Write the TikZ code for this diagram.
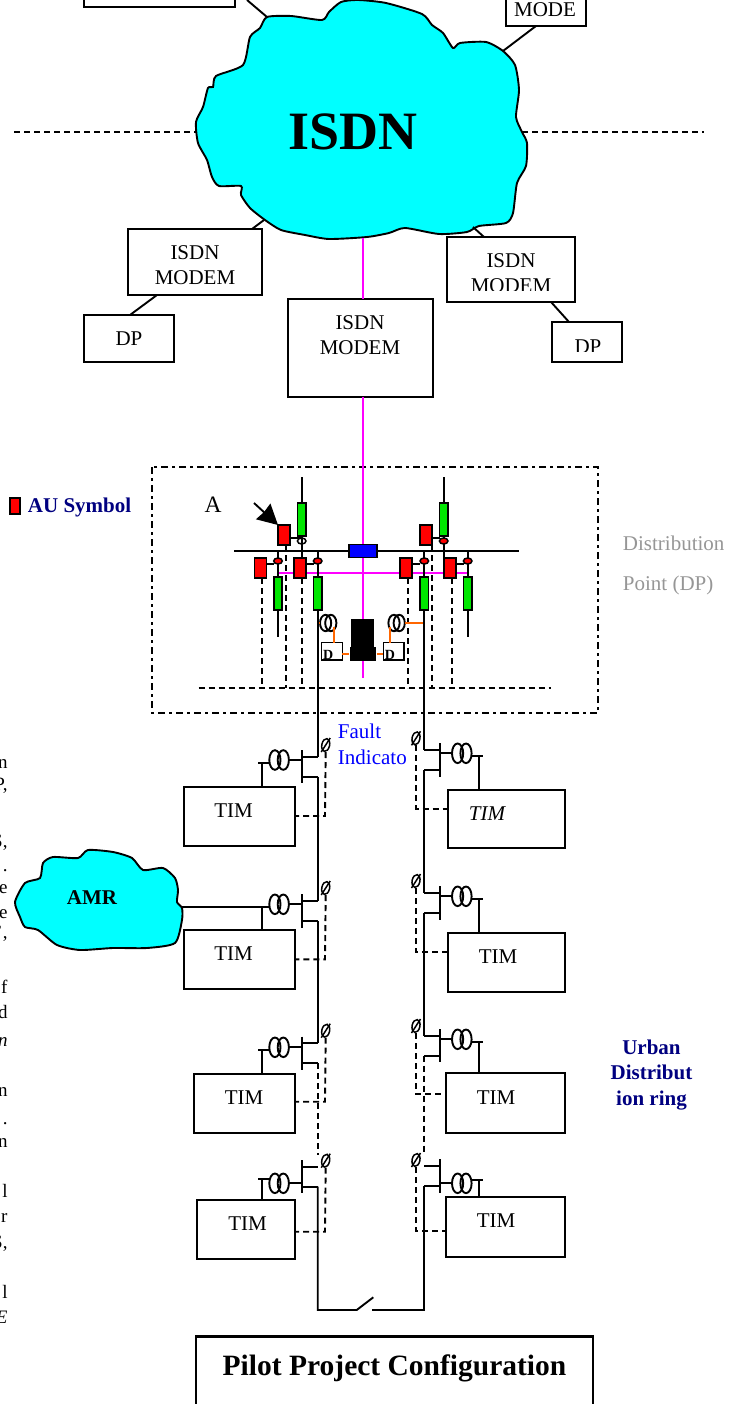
\documentclass[tikz,border=0pt]{standalone}
\usepackage{fontspec}
\setmainfont{Liberation Serif}
\usepackage{xcolor}
\usetikzlibrary{arrows.meta,shapes.geometric}
\definecolor{unitgreen}{RGB}{0,230,0}
\definecolor{navytext}{RGB}{0,0,128}
\definecolor{graytext}{RGB}{150,150,150}
\definecolor{wireorange}{RGB}{255,102,0}
\definecolor{cloudcyan}{RGB}{0,255,255}
\definecolor{wirepink}{RGB}{255,0,255}
\tikzset{
	labeltext/.style={font=\fontsize{21}{25}\selectfont,inner sep=0pt,align=center},
	edgetext/.style={font=\fontsize{19}{20}\selectfont,inner sep=0pt,anchor=base east},
	framebox/.style={draw,line width=2pt,inner sep=0pt,outer sep=0pt},
	redunit/.style={draw,fill=red,inner sep=0pt,outer sep=0pt,minimum width=12pt,minimum height=20pt},
	greenunit/.style={draw,fill=unitgreen,inner sep=0pt,outer sep=0pt,minimum width=8.4pt,minimum height=33pt},
	breaker/.style={draw,ellipse,fill=red,inner sep=0pt,outer sep=0pt,minimum width=8.6pt,minimum height=6pt},
	cloudshape/.style={draw,fill=cloudcyan,line width=1.9pt},
	mainline/.style={line width=2.3pt},
	dashline/.style={dashed,dash pattern=on 6pt off 4pt},
	orangeline/.style={wireorange,line width=1.9pt},
	pinkline/.style={wirepink,line width=1.8pt},
	pics/coil/.style 2 args={code={
		\draw (-#1,0) ellipse (5.6pt and #2pt);
		\draw (#1,0) ellipse (5.6pt and #2pt);
		\coordinate (-w) at (-#1-5.6,0);
		\coordinate (-e) at (#1+5.6,0);
	}},
	pics/indicator/.style={code={
		\draw[rotate=-12,line width=1.5pt] (0,0) ellipse (3.9pt and 6.5pt);
		\draw[line width=1.5pt] (-4.5,7) -- (4.5,-7);
		\coordinate (-foot) at (0,7);
	}},
	pics/feeder/.style n args={3}{code={
		\coordinate (-up) at (0,0);
		\coordinate (-low) at (0,20);
		\coordinate (-tap) at (-#3-17,#2);
		\draw[mainline] (-up) -- (-16,0) (-16,20) -- (-low);
		\draw[mainline] (-16,-6.7) -- (-16,26.7);
		\draw (-16,#1) -- (-#3+10,#1);
		\draw (-#3-10,#2) -- (-#3-21,#2);
		\pic at (-#3,#1) {coil={4.2}{9.8}};
	}}
}
\begin{document}
\begin{tikzpicture}[x=1pt,y=-1pt,line width=1.9pt]
    \useasboundingbox (0,0) rectangle (738,1404);
    % ISDN cloud and the dashed boundary
    \coordinate (dashla) at (14,132);
    \coordinate (dashlb) at (196,132);
    \coordinate (dashra) at (522,132);
    \coordinate (dashrb) at (704,132);
    \draw[dashline,line width=2pt] (dashla) -- (dashlb);
    \draw[dashline,line width=2pt] (dashra) -- (dashrb);
    \coordinate (cloudtl) at (267,17);
    \coordinate (cloudtr) at (503,51);
    \coordinate (cloudbl) at (264,220);
    \coordinate (cloudbr) at (473,227);
    \coordinate (cloudb) at (363,238);
    \coordinate (fartl) at (247,0);
    \draw (fartl) -- (cloudtl);
    \draw[cloudshape] plot[smooth cycle,tension=.4] coordinates {
        (267,17) (291,16) (322,20) (329,12) (341,2) (358,0) (386,3) (422,14) (432,25)
        (443,33) (453,48) (460,43) (486,42) (503,51) (515,65) (519,90) (516,117) (522,132)
        (527,143) (526,166) (517,183) (513,213) (506,223) (479,226) (467,232) (439,234)
        (405,228) (389,233) (367,237) (329,239) (305,235) (281,230) (265,220) (250,208)
        (241,195) (241,186) (219,186) (212,177) (207,160) (198,143) (196,122) (203,107)
        (208,88) (213,87) (216,76) (243,65) (250,37) (260,28)};
    \node[inner sep=0pt,font=\bfseries\fontsize{54}{60}\selectfont] (isdn) at (353,132) {ISDN};
    % modems
    \node[framebox,minimum width=151pt,minimum height=54pt] (modemtl) at (159.5,-20) {};
    \node[framebox,minimum width=80pt,minimum height=72pt] (modemtr) at (546,-10) {};
    \node[labeltext] (modetext) at (545,10) {MODE};
    \coordinate (modemtrfoot) at (536,26);
    \draw (modemtrfoot) -- (cloudtr);
    \node[framebox,minimum width=134pt,minimum height=66pt] (modeml) at (194.5,262) {};
    \node[labeltext] (modemltext) at (195,265.5) {ISDN\\MODEM};
    \node[framebox,minimum width=145pt,minimum height=98pt] (modemc) at (360,348) {};
    \node[labeltext] (modemctext) at (360,335.5) {ISDN\\MODEM};
    \node[framebox,minimum width=128pt,minimum height=65pt] (modemr) at (511,269.5) {};
    \begin{scope}
        \clip (448,238) rectangle (574,291);
        \node[labeltext] (modemrtext) at (511,273) {ISDN\\MODEM};
    \end{scope}
    \node[framebox,minimum width=90pt,minimum height=47pt] (dpl) at (129,338.5) {};
    \node[labeltext] (dpltext) at (129,339) {DP};
    \node[framebox,minimum width=70pt,minimum height=40pt] (dpr) at (587,342) {};
    \begin{scope}
        \clip (553,323) rectangle (621,351.5);
        \node[labeltext] (dprtext) at (588,347) {DP};
    \end{scope}
    \coordinate (modemlhead) at (252,229);
    \coordinate (modemrhead) at (484,237);
    \coordinate (modemlfoot) at (157,295);
    \coordinate (dplhead) at (130,315);
    \coordinate (modemrfoot) at (551,302);
    \coordinate (dprhead) at (569,322);
    \draw (cloudbl) -- (modemlhead);
    \draw (cloudbr) -- (modemrhead);
    \draw (modemlfoot) -- (dplhead);
    \draw (modemrfoot) -- (dprhead);
    \draw[pinkline] (cloudb) -- (cloudb |- modemc.north);
    % distribution point frame
    \coordinate (framea) at (152,467);
    \coordinate (frameb) at (598,713);
    \draw[line width=1.9pt,dash pattern=on 7pt off 4pt on 3pt off 4pt] (framea) rectangle (frameb);
    \node[labeltext,font=\fontsize{23.5}{25}\selectfont] (labela) at (213,505) {A};
    \node[redunit,line width=2pt,minimum width=10pt,minimum height=16pt] (aulegend) at (14.5,505.5) {};
    \node[labeltext,anchor=west,text=navytext,font=\bfseries\fontsize{21}{25}\selectfont] (aulabel) at (27,507) {AU Symbol};
    \node[labeltext,anchor=west,text=graytext] (dptexta) at (622,543) {Distribution};
    \node[labeltext,anchor=west,text=graytext] (dptextb) at (622,585) {Point (DP)};
    % bus and the crossing lines
    \coordinate (pinkend) at (363,678);
    \coordinate (pinkl) at (278,572.7);
    \coordinate (pinkr) at (467.7,572.7);
    \coordinate (busl) at (234,551);
    \coordinate (busr) at (519,551);
    \draw[pinkline] (modemc.south -| pinkend) -- (pinkend);
    \draw[pinkline] (pinkl) -- (pinkr);
    \draw (busl) -- (busr);
    \node[draw,fill=blue,inner sep=0pt,minimum width=28pt,minimum height=13pt] (coupler) at (363.3,551) {};
    \node[redunit] (auarrow) at (284,535) {};
    \node[redunit] (auright) at (426,535) {};
    \node[redunit] (aua) at (260.5,568) {};
    \node[redunit] (aub) at (300,568) {};
    \node[redunit] (auc) at (406,568) {};
    \node[redunit] (aud) at (450,568) {};
    \node[greenunit] (gtopl) at (301.7,519.5) {};
    \node[greenunit] (gtopr) at (443.7,519.5) {};
    \node[greenunit] (ga) at (278,593.5) {};
    \node[greenunit] (gb) at (317.7,593.5) {};
    \node[greenunit] (gc) at (424.3,593.5) {};
    \node[greenunit] (gd) at (467.7,593.5) {};
    \node[breaker,fill=none,line width=1.5pt] (cbopen) at (301.7,541) {};
    \node[breaker,line width=1.5pt] (cbtop) at (443.7,541) {};
    \node[breaker,line width=1.5pt] (cba) at (278,561) {};
    \node[breaker,line width=1.5pt] (cbb) at (317.7,561) {};
    \node[breaker,line width=1.5pt] (cbc) at (424.3,561) {};
    \node[breaker,line width=1.5pt] (cbd) at (467.7,561) {};
    \coordinate (tailtl) at (301.7,477);
    \coordinate (tailtr) at (443.7,477);
    \coordinate (tailbl) at (278,637);
    \coordinate (tailbr) at (467.7,637);
    \draw (gtopl.north) -- (tailtl);
    \draw (gtopr.north) -- (tailtr);
    \draw (ga.south) -- (tailbl);
    \draw (gd.south) -- (tailbr);
    \draw (gtopl.south) -- (aub.north -| gtopl);
    \draw (gtopr.south) -- (cbtop.north);
    \draw (cbtop.south) -- (aud.north -| gtopr);
    \draw (busl -| cba) -- (cba.north);
    \draw (busl -| cbb) -- (cbb.north);
    \draw (busl -| cbc) -- (cbc.north);
    \draw (busl -| cbd) -- (cbd.north);
    \draw (cba.south) -- (ga.north);
    \draw (cbb.south) -- (gb.north);
    \draw (cbc.south) -- (gc.north);
    \draw (cbd.south) -- (gd.north);
    \coordinate (tieup) at (301.7,538);
    \coordinate (tiedown) at (301.7,564);
    \draw (auarrow.east |- tieup) -- (gtopl.south |- tieup);
    \draw (auright.east |- tieup) -- (gtopr.west |- tieup);
    \draw (aua.east |- tiedown) -- (ga.west |- tiedown);
    \draw (aub.east |- tiedown) -- (gb.west |- tiedown);
    \draw (auc.east |- tiedown) -- (gc.west |- tiedown);
    \draw (aud.east |- tiedown) -- (gd.west |- tiedown);
    % dashed trip lines of the distribution point
    \coordinate (tripl) at (198.7,688);
    \coordinate (tripr) at (551,688);
    \coordinate (tripa) at (262.3,688);
    \coordinate (tripb) at (286,688);
    \coordinate (tripc) at (301.7,688);
    \coordinate (tripd) at (408,688);
    \coordinate (tripe) at (432,688);
    \coordinate (tripf) at (452,688);
    \draw[dashline] (tripl) -- (tripr);
    \draw[dashline] (aua.south -| tripa) -- (tripa);
    \draw[dashline] (auarrow.south -| tripb) -- (tripb);
    \draw[dashline] (aub.south -| tripc) -- (tripc);
    \draw[dashline] (auc.south -| tripd) -- (tripd);
    \draw[dashline] (auright.south -| tripe) -- (tripe);
    \draw[dashline] (aud.south -| tripf) -- (tripf);
    % arrow to the AU
    \coordinate (arrowtail) at (254,503);
    \draw[-{Stealth[length=20pt,width=21pt,inset=1pt]}] (arrowtail) -- (auarrow.north west);
    % control block
    \node[fill=black,inner sep=0pt,minimum width=23.3pt,minimum height=28pt] (blacktop) at (362.7,633) {};
    \node[fill=black,inner sep=0pt,minimum width=25.7pt,minimum height=14pt] (blackbase) at (362.8,653.7) {};
    \node[framebox,line width=1.5pt,minimum width=20.6pt,minimum height=17.3pt] (dboxl) at (332,651.3) {};
    \node[framebox,line width=1.5pt,minimum width=20.6pt,minimum height=17.3pt] (dboxr) at (393.7,651.3) {};
    \begin{scope}
        \clip (dboxl.south west) rectangle (dboxl.north east);
        \node[inner sep=0pt,font=\bfseries\fontsize{14}{15}\selectfont] (dtextl) at (328.3,655) {D};
    \end{scope}
    \begin{scope}
        \clip (dboxr.south west) rectangle (dboxr.north east);
        \node[inner sep=0pt,font=\bfseries\fontsize{14}{15}\selectfont] (dtextr) at (390,655) {D};
    \end{scope}
    \pic (coill) at (328.2,623) {coil={2.6}{8.2}};
    \pic (coilr) at (396.6,623) {coil={2.6}{8.2}};
    \coordinate (orangel) at (334.3,627);
    \coordinate (oranger) at (390,627);
    \draw[orangeline] (gb.south |- coill-w) -- (coill-w);
    \draw[orangeline] (coilr-e) -- (gc.south |- coilr-e);
    \draw[orangeline] (orangel) -- (orangel |- dboxl.north);
    \draw[orangeline] (oranger) -- (oranger |- dboxr.north);
    \draw[orangeline] (dboxl.east |- blackbase) -- (blackbase.west);
    \draw[orangeline] (blackbase.east) -- (dboxr.west |- blackbase);
    % feeder units, left side
    \node[labeltext,align=left,anchor=west,text=blue,font=\fontsize{21}{26}\selectfont] (faulttext) at (337,744.5) {Fault\\Indicato};
    \pic (fl1) at (317.7,756.7) {feeder={3.3}{6.6}{38.6}};
    \pic (fl2) at (317.7,901) {feeder={3.3}{6.3}{38.6}};
    \pic (fl3) at (317.7,1043.3) {feeder={4}{6.7}{38.6}};
    \pic (fl4) at (317.7,1166.7) {feeder={16.6}{12.6}{38.6}};
    \pic (fi1) at (325.7,745) {indicator};
    \pic (fi2) at (325.7,888) {indicator};
    \pic (fi3) at (325.7,1030.7) {indicator};
    \pic (fi4) at (325.7,1160.7) {indicator};
    \node[framebox,minimum width=111.3pt,minimum height=59.3pt] (tim1) at (239.65,816.35) {};
    \node[framebox,minimum width=111.3pt,minimum height=59.3pt] (tim2) at (239.65,959.65) {};
    \node[framebox,minimum width=101.3pt,minimum height=59.6pt] (tim3) at (244.65,1103.5) {};
    \node[framebox,minimum width=98.6pt,minimum height=59.3pt] (tim4) at (246,1229.65) {};
    \node[labeltext] (timtext1) at (233.5,811) {TIM};
    \node[labeltext] (timtext2) at (233.5,954) {TIM};
    \node[labeltext] (timtext3) at (244,1098) {TIM};
    \node[labeltext] (timtext4) at (247.5,1224) {TIM};
    \draw (fl1-tap) -- (fl1-tap |- tim1.north);
    \draw (fl2-tap) -- (fl2-tap |- tim2.north);
    \draw (fl3-tap) -- (fl3-tap |- tim3.north);
    \draw (fl4-tap) -- (fl4-tap |- tim4.north);
    \coordinate (dashl1) at (325,816);
    \coordinate (dashl2) at (325,959.3);
    \coordinate (dashl3) at (325,1101.7);
    \coordinate (dashl4) at (325,1231.7);
    \draw[dashline] (fi1-foot) -- (dashl1) -- (dashl1 -| tim1.east);
    \draw[dashline] (fi2-foot) -- (dashl2) -- (dashl2 -| tim2.east);
    \draw[dashline] (fi3-foot) -- (dashl3) -- (dashl3 -| tim3.east);
    \draw[dashline] (fi4-foot) -- (dashl4) -- (dashl4 -| tim4.east);
    \coordinate (mainl1) at (317.7,848);
    \coordinate (mainl2) at (317.7,1155);
    \coordinate (ringl) at (317.7,1310);
    \coordinate (switcha) at (356.7,1310);
    \coordinate (switchb) at (373.3,1297.3);
    \coordinate (switchc) at (372.3,1310);
    \coordinate (ringr) at (424.3,1310);
    \draw[mainline] (gb.south) -- (fl1-up);
    \draw[mainline] (fl1-low) -- (mainl1);
    \draw (mainl1) -- (fl2-up);
    \draw[mainline] (fl2-low) -- (fl3-up);
    \draw[dashline] (fl3-low) -- (mainl2);
    \draw (fl4-low) -- (ringl) -- (switcha) -- (switchb);
    % feeder units, right side
    \pic[xscale=-1] (fr1) at (424.3,750) {feeder={3.3}{5.7}{37.5}};
    \pic[xscale=-1] (fr2) at (424.3,893) {feeder={3.3}{5.7}{37.5}};
    \pic[xscale=-1] (fr3) at (424.3,1035.7) {feeder={3.6}{6.6}{37.5}};
    \pic[xscale=-1] (fr4) at (424.3,1166) {feeder={17.3}{14}{37.5}};
    \pic (fj1) at (416,738.3) {indicator};
    \pic (fj2) at (416,881) {indicator};
    \pic (fj3) at (416,1026) {indicator};
    \pic (fj4) at (416,1160) {indicator};
    \node[framebox,minimum width=116.7pt,minimum height=58.3pt] (tim5) at (506.65,819.15) {};
    \node[framebox,minimum width=116.7pt,minimum height=59pt] (tim6) at (506.65,962.5) {};
    \node[framebox,minimum width=119pt,minimum height=60pt] (tim7) at (505.5,1103.3) {};
    \node[framebox,minimum width=119pt,minimum height=59.4pt] (tim8) at (505.5,1227) {};
    \node[labeltext,font=\itshape\fontsize{21}{25}\selectfont] (timtext5) at (487,814) {TIM};
    \node[labeltext] (timtext6) at (498,957) {TIM};
    \node[labeltext] (timtext7) at (496,1098) {TIM};
    \node[labeltext] (timtext8) at (496,1221) {TIM};
    \draw (fr1-tap) -- (fr1-tap |- tim5.north);
    \draw (fr2-tap) -- (fr2-tap |- tim6.north);
    \draw (fr3-tap) -- (fr3-tap |- tim7.north);
    \draw (fr4-tap) -- (fr4-tap |- tim8.north);
    \coordinate (dashr1) at (416,808.7);
    \coordinate (dashr2) at (416,951.7);
    \coordinate (dashr3) at (416,1094);
    \coordinate (dashr4) at (416,1230.7);
    \draw[dashline] (fj1-foot) -- (dashr1) -- (dashr1 -| tim5.west);
    \draw[dashline] (fj2-foot) -- (dashr2) -- (dashr2 -| tim6.west);
    \draw[dashline] (fj3-foot) -- (dashr3) -- (dashr3 -| tim7.west);
    \draw[dashline] (fj4-foot) -- (dashr4) -- (dashr4 -| tim8.west);
    \coordinate (mainr2) at (424.3,1155);
    \draw[mainline] (gc.south) -- (fr1-up);
    \draw[mainline] (fr1-low) -- (fr2-up);
    \draw[mainline] (fr2-low) -- (fr3-up);
    \draw[dashline] (fr3-low) -- (mainr2);
    \draw (switchc) -- (ringr) -- (fr4-low);
    % AMR cloud
    \coordinate (amrout) at (181.7,907.3);
    \draw (amrout) -- (fl2-tap);
    \draw[cloudshape] plot[smooth cycle,tension=.4] coordinates {
        (15,902) (25,883) (40,878) (43,863) (53,857) (78,858) (88,850) (113,852) (132,858)
        (143,870) (163,868) (175,878) (178,890) (177,902) (182,908) (182,920) (175,943)
        (147,948) (113,948) (80,950) (57,945) (38,930) (25,927) (20,917)};
    \node[labeltext,font=\bfseries\fontsize{21}{25}\selectfont] (amrtext) at (92,898) {AMR};
    \node[labeltext,text=navytext,font=\bfseries\fontsize{21}{25.5}\selectfont] (ringtext) at (651.5,1075) {Urban\\Distribut\\ion ring};
    % title
    \node[framebox,line width=2.6pt,minimum width=397pt,minimum height=100pt] (titlebox) at (394.5,1386.5) {};
    \node[inner sep=0pt,font=\bfseries\fontsize{29.5}{32}\selectfont] (titletext) at (394.5,1368) {Pilot Project Configuration};
    % what is left of the page text at the edge
    \node[edgetext] (ea) at (8.5,768) {n};
    \node[edgetext] (eb) at (8.5,790) {P,};
    \node[edgetext] (ec) at (8.5,847) {S,};
    \node[edgetext] (ed) at (8.5,871) {.};
    \node[edgetext] (ee) at (8.5,893) {e};
    \node[edgetext] (ef) at (8.5,918) {e};
    \node[edgetext] (eg) at (8.5,938) {',};
    \node[edgetext] (eh) at (8.5,993) {f};
    \node[edgetext] (ei) at (8.5,1018) {d};
    \node[edgetext,font=\itshape\fontsize{19}{20}\selectfont] (ej) at (8.5,1046) {n};
    \node[edgetext] (ek) at (8.5,1096) {n};
    \node[edgetext] (el) at (8.5,1124) {.};
    \node[edgetext] (em) at (8.5,1147) {n};
    \node[edgetext] (en) at (8.5,1197) {l};
    \node[edgetext] (eo) at (8.5,1222) {r};
    \node[edgetext] (ep) at (8.5,1248) {S,};
    \node[edgetext] (eq) at (8.5,1298) {l};
    \node[edgetext,font=\itshape\fontsize{19}{20}\selectfont] (er) at (8.5,1323) {E};
\end{tikzpicture}
\end{document}
